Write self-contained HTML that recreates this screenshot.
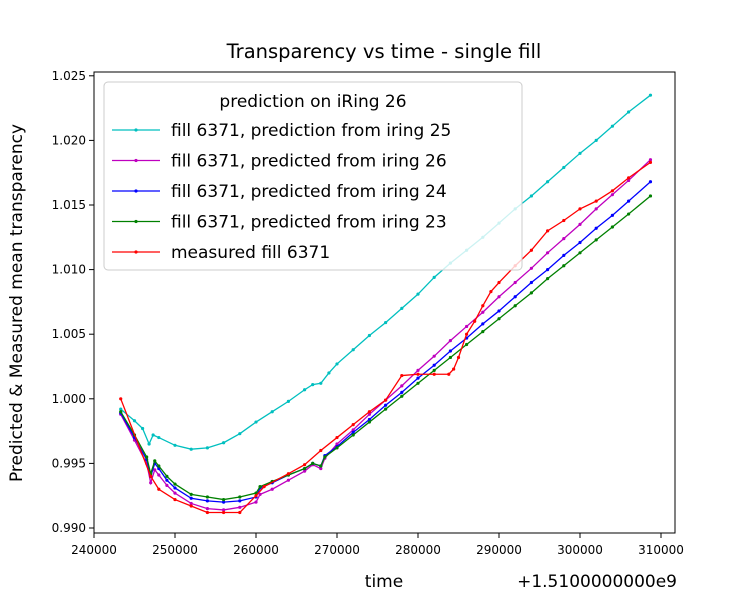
<!DOCTYPE html>
<html><head><meta charset="utf-8"><style>
body{margin:0;background:#fff}
svg{font-family:"DejaVu Sans","Liberation Sans",sans-serif}
</style></head><body>
<svg id="c" width="750" height="600">
<text x="384" y="58" font-size="19.5" text-anchor="middle">Transparency vs time - single fill</text>
<g id="plot"></g>
<rect x="94" y="72" width="581" height="461" fill="none" stroke="#000" stroke-width="1"/>
<g id="axes"></g>
<text x="384" y="587" font-size="17" text-anchor="middle">time</text>
<text x="677" y="587" font-size="17" text-anchor="end">+1.5100000000e9</text>
<text transform="translate(22,303) rotate(-90)" font-size="17" text-anchor="middle">Predicted &amp; Measured mean transparency</text>
<g id="legend"></g>
</svg>
<script>
const xTicks=[240000,250000,260000,270000,280000,290000,300000,310000];
const yTicks=[0.990,0.995,1.000,1.005,1.010,1.015,1.020,1.025];
const cyanT=[243300,245000,246000,246800,247300,248000,250000,252000,254000,256000,258000,260000,262000,264000,266000,267000,268000,269000,270000,272000,274000,276000,278000,280000,282000,284000,286000,288000,290000,292000,294000,296000,298000,300000,302000,304000,306000,308700];
const cyanV=[0.9992,0.9983,0.9977,0.9965,0.9972,0.9970,0.9964,0.9961,0.9962,0.9966,0.9973,0.9982,0.9990,0.9998,1.0007,1.0011,1.0012,1.0020,1.0027,1.0038,1.0049,1.0059,1.0070,1.0081,1.0094,1.0105,1.0115,1.0125,1.0136,1.0147,1.0157,1.0168,1.0179,1.0190,1.0200,1.0211,1.0222,1.0235];
const baseT=[243300,245000,246500,247000,247500,248000,249000,250000,252000,254000,256000,258000,260000,260500,262000,264000,266000,267000,268000,268500,270000,272000,274000,276000,278000,280000,282000,284000,286000,288000,290000,292000,294000,296000,298000,300000,302000,304000,306000,308700];
const greenV=[0.9990,0.9972,0.9955,0.9942,0.9952,0.9948,0.9940,0.9934,0.9926,0.9924,0.9922,0.9924,0.9927,0.9932,0.9936,0.9941,0.9946,0.9950,0.9948,0.9955,0.9962,0.9972,0.9982,0.9992,1.0002,1.0012,1.0022,1.0032,1.0042,1.0052,1.0062,1.0072,1.0082,1.0093,1.0103,1.0113,1.0123,1.0133,1.0143,1.0157];
const blueV=[0.9989,0.9970,0.9953,0.9940,0.9950,0.9946,0.9937,0.9931,0.9923,0.9921,0.9920,0.9921,0.9924,0.9931,0.9935,0.9941,0.9946,0.9950,0.9948,0.9956,0.9963,0.9974,0.9984,0.9995,1.0005,1.0016,1.0026,1.0037,1.0047,1.0058,1.0068,1.0079,1.0090,1.0100,1.0111,1.0121,1.0132,1.0142,1.0153,1.0168];
const magentaV=[0.9988,0.9968,0.9950,0.9935,0.9945,0.9941,0.9933,0.9927,0.9919,0.9915,0.9914,0.9916,0.9920,0.9926,0.9930,0.9937,0.9944,0.9949,0.9946,0.9954,0.9965,0.9976,0.9988,0.9999,1.0010,1.0022,1.0033,1.0045,1.0056,1.0067,1.0079,1.0090,1.0101,1.0113,1.0124,1.0135,1.0147,1.0158,1.0169,1.0185];
const redT=[243300,247000,248000,250000,252000,254000,256000,258000,260000,261000,264000,266000,268000,270000,272000,274000,276000,278000,280000,282000,283800,284400,285000,286000,287000,288000,289000,290000,292000,294000,296000,298000,300000,302000,304000,306000,308700];
const redV=[1.0000,0.9940,0.9930,0.9922,0.9917,0.9912,0.9912,0.9912,0.9925,0.9932,0.9942,0.9949,0.9960,0.9970,0.9980,0.9990,0.9999,1.0018,1.0019,1.0019,1.0019,1.0023,1.0032,1.0050,1.0060,1.0072,1.0083,1.0090,1.0103,1.0115,1.0130,1.0138,1.0147,1.0153,1.0161,1.0171,1.0183];
const labels=["fill 6371, prediction from iring 25","fill 6371, predicted from iring 26","fill 6371, predicted from iring 24","fill 6371, predicted from iring 23","measured fill 6371"];
const NS="http://www.w3.org/2000/svg";
const X=t=>94+(t-240000)*81/10000;
const Y=v=>528-(v-0.990)*12920;
function mk(tag,at,parent){const e=document.createElementNS(NS,tag);for(const k in at)e.setAttribute(k,at[k]);parent.appendChild(e);return e;}
const axes=document.getElementById('axes');
xTicks.forEach(t=>{
 const l=mk('line',{x1:X(t),x2:X(t),y1:533,y2:538,stroke:'#000'},axes);
 
 
 const s=mk('text',{x:X(t),y:554,'font-size':12,'text-anchor':'middle'},axes);s.textContent=t;
 
 
});
yTicks.forEach(v=>{
 const l=mk('line',{x1:89,x2:94,y1:Y(v),y2:Y(v),stroke:'#000'},axes);
 
 
 const s=mk('text',{x:86,y:Y(v)+4,'font-size':12,'text-anchor':'end'},axes);s.textContent=v.toFixed(3);
 
 
});
const plot=document.getElementById('plot');
const series=[[cyanT,cyanV,'#00bfbf','series-cyan'],[baseT,magentaV,'#bf00bf','series-magenta'],[baseT,blueV,'#0000ff','series-blue'],[baseT,greenV,'#008000','series-green'],[redT,redV,'#ff0000','series-red']];
series.forEach(([ts,vs,c,n])=>{
 const g=mk('g',{},plot);
 
 
 mk('polyline',{points:ts.map((t,i)=>X(t)+','+Y(vs[i])).join(' '),fill:'none',stroke:c,'stroke-width':1.3},g);
 ts.forEach((t,i)=>{const p=mk('circle',{cx:X(t),cy:Y(vs[i]),r:1.6,fill:c},g);
  
  });
});
const lg=document.getElementById('legend');
mk('rect',{x:104,y:82,width:418,height:188,rx:4,fill:'#fff','fill-opacity':0.8,stroke:'#ccc'},lg);
const tt=mk('text',{x:313,y:107,'font-size':17,'text-anchor':'middle'},lg);tt.textContent='prediction on iRing 26';


series.forEach(([ts,vs,c,n],i)=>{
 const y=130+i*30.5;
 const e=mk('g',{},lg);
 
 
 mk('line',{x1:112,x2:160,y1:y,y2:y,stroke:c,'stroke-width':1.3},e);
 mk('circle',{cx:136,cy:y,r:1.6,fill:c},e);
 const s=mk('text',{x:171,y:y+6,'font-size':17},e);s.textContent=labels[i];
});
</script>
</body></html>
